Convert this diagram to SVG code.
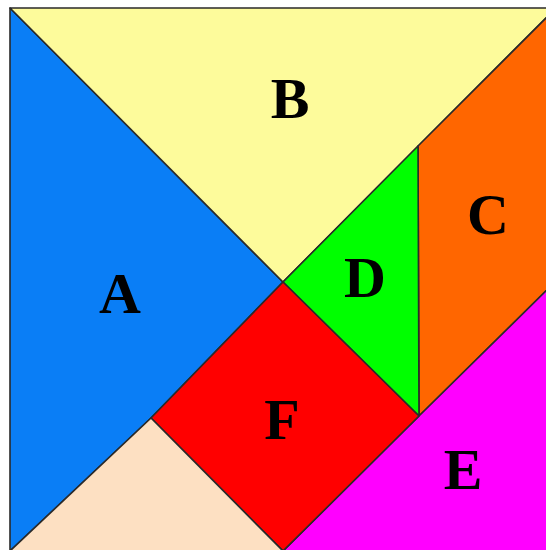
<svg xmlns="http://www.w3.org/2000/svg" width="546" height="550" viewBox="0 0 546 550">
<style>
.p{stroke:#2a2a2a;stroke-width:1.6;stroke-linejoin:round}
.t{font-family:"Liberation Serif","Times New Roman",serif;font-weight:bold;font-size:58px;text-anchor:middle;fill:#000}
</style>
<rect width="546" height="550" fill="#fff"/>
<g id="A"><polygon class="p" points="10,8 283,282 151,418 10,551" fill="#0a7ef6"/><text class="t" x="120" y="313">A</text></g>
<g id="B"><polygon class="p" points="10,8 556,8 283,282" fill="#fdfb9b"/><text class="t" x="290" y="118">B</text></g>
<g id="C"><polygon class="p" points="556,8 556,281 419,416 418,146" fill="#ff6600"/><text class="t" x="488" y="234">C</text></g>
<g id="D"><polygon class="p" points="283,282 418,146 419,416" fill="#00ff00"/><text class="t" x="365" y="297">D</text></g>
<g id="E"><polygon class="p" points="556,281 556,551 283,551 419,416" fill="#ff00ff"/><text class="t" x="463" y="489">E</text></g>
<g id="F"><polygon class="p" points="283,282 419,416 283,551 151,418" fill="#ff0000"/><text class="t" x="282" y="439">F</text></g>
<g id="G"><polygon class="p" points="151,418 283,551 10,551" fill="#fde0c2"/></g>
<g id="connectors"></g>
</svg>
